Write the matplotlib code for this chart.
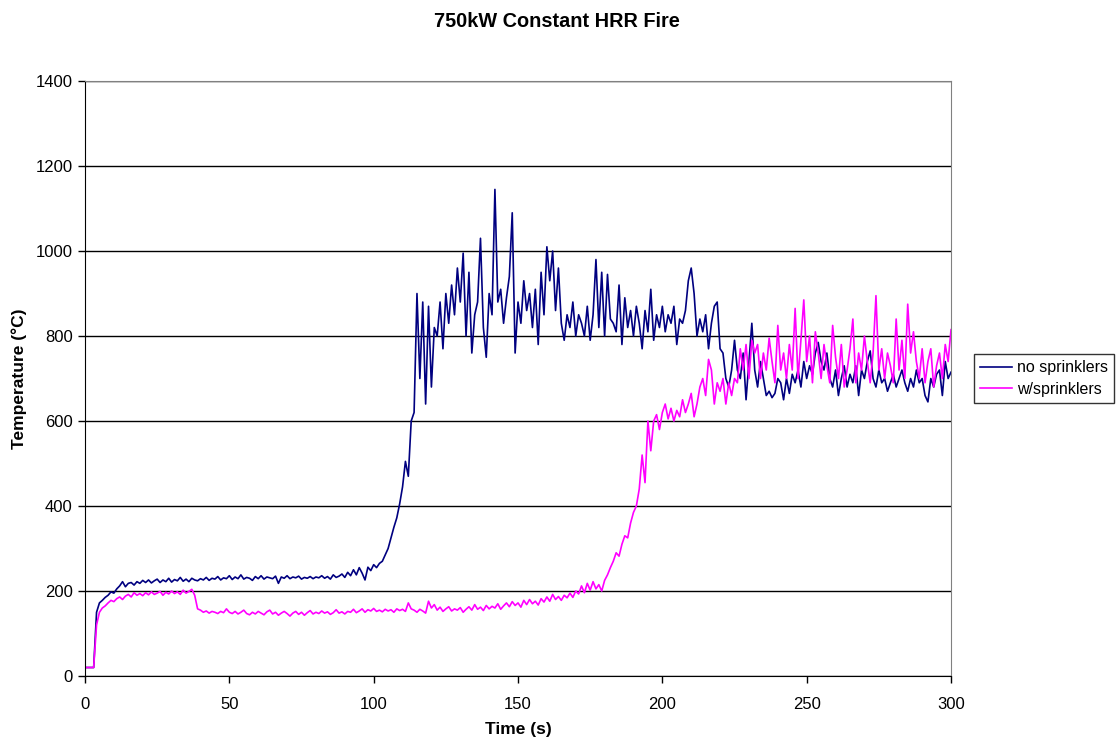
import numpy as np
from matplotlib import pyplot as plt

plt.rcParams['font.family'] = ['Liberation Sans', 'DejaVu Sans']

# time in seconds, one sample per second
time_s = np.arange(0, 301)

no_sprinklers = [
    20, 20, 20, 20, 150, 172, 178, 185, 190, 198,
    195, 205, 212, 222, 210, 218, 220, 214, 222, 218,
    225, 220, 226, 219, 224, 228, 220, 226, 222, 230,
    221, 227, 224, 232, 223, 228, 222, 230, 226, 224,
    229, 226, 232, 225, 230, 228, 234, 226, 231, 229,
    236, 227, 233, 229, 238, 228, 232, 230, 225, 234,
    229, 236, 228, 233, 231, 229, 235, 218, 233, 230,
    236, 229, 233, 231, 235, 228, 232, 230, 234, 229,
    233, 231, 236, 230, 234, 228, 238, 232, 235, 240,
    232, 244, 236, 250, 238, 255, 242, 226, 256, 248,
    262, 255, 265, 270, 285, 300, 325, 350, 372, 405,
    445, 505, 470, 600, 620, 900, 700, 880, 640, 870,
    680, 820, 800, 880, 770, 900, 830, 920, 850, 960,
    880, 995, 800, 950, 760, 850, 880, 1030, 820, 750,
    900, 850, 1145, 880, 910, 830, 890, 940, 1090, 760,
    880, 830, 930, 860, 900, 820, 910, 780, 950, 850,
    1010, 930, 1000, 860, 960, 830, 790, 850, 820, 880,
    800, 850, 830, 800, 870, 790, 850, 980, 820, 950,
    800, 945, 840, 830, 810, 920, 780, 890, 820, 860,
    800, 870, 830, 770, 860, 810, 910, 790, 850, 820,
    870, 810, 850, 830, 870, 780, 840, 830, 860, 930,
    960, 900, 800, 840, 810, 850, 770, 830, 870, 880,
    770, 760, 700, 680, 720, 790, 720, 700, 760, 650,
    740, 830, 720, 680, 740, 700, 660, 670, 655, 665,
    700, 690, 650, 700, 665, 710, 690, 720, 680, 740,
    700, 730, 710, 760, 785, 740, 720, 760, 700, 680,
    720, 660, 700, 730, 680, 710, 690, 730, 660, 720,
    700, 740, 765, 700, 680, 720, 690, 700, 670, 690,
    710, 680, 700, 720, 690, 670, 700, 680, 720, 690,
    700, 660, 645, 700, 680, 710, 720, 660, 740, 700,
    715,
]

with_sprinklers = [
    20, 20, 20, 20, 120, 150, 160, 165, 172, 178,
    175, 182, 186, 180, 188, 192, 186, 196, 190, 194,
    189, 196, 191, 198, 192, 195, 199, 190, 197, 193,
    200, 194, 198, 192, 202, 195, 199, 204, 190, 158,
    155, 150, 153, 148, 152, 150, 147, 152, 149, 158,
    150, 147, 152, 146, 150, 155, 147, 144, 150, 146,
    152, 148, 144, 151, 155, 146, 150, 143, 148, 152,
    147, 141, 148, 152, 145, 150, 143, 149, 154, 146,
    150, 147, 153, 148, 151, 145, 149, 156, 148, 151,
    146, 152, 150, 157, 149, 153, 158, 150, 156, 153,
    159, 152, 155, 151, 157, 153, 156, 150, 158, 154,
    157, 152, 172, 158, 155, 150, 157, 153, 148, 176,
    160, 168, 155, 162, 152, 158, 163, 153, 158, 155,
    161, 150, 157, 163, 155, 168, 157, 162, 154, 166,
    158, 164, 160, 170, 157, 165, 172, 163, 175, 166,
    172, 162, 178, 168, 180, 170, 176, 167, 182, 174,
    186, 176, 192, 180, 187, 178, 190, 184, 195, 185,
    200, 193, 212, 196, 218, 202, 222, 205, 215, 200,
    225, 238, 255, 270, 290, 282, 310, 330, 325, 360,
    385, 400, 440, 520, 455, 600, 530, 600, 615, 580,
    620, 640, 605, 630, 600, 625, 610, 650, 620, 640,
    665, 610, 640, 680, 700, 660, 745, 720, 640, 690,
    670, 700, 640, 690, 660, 700, 690, 770, 720, 780,
    700, 790, 760, 780, 700, 760, 720, 795, 740, 690,
    825, 720, 760, 700, 780, 720, 865, 700, 790, 885,
    740, 800, 690, 810, 760, 700, 780, 730, 690, 825,
    750, 700, 780, 680, 720, 770, 840, 690, 760, 720,
    800, 740, 690, 760, 895, 720, 770, 700, 760, 730,
    690, 840, 720, 790, 700, 875, 760, 810, 740, 700,
    770, 690, 740, 770, 680, 730, 760, 700, 780, 740,
    815,
]

x_ticks = [0, 50, 100, 150, 200, 250, 300]
y_ticks = [0, 200, 400, 600, 800, 1000, 1200, 1400]

fig = plt.figure(figsize=(11.17, 7.38), dpi=100)
ax = fig.add_axes([0.0761, 0.0840, 0.7753, 0.8062])

ax.plot(time_s, no_sprinklers, color='#000080', lw=1.2, label='no sprinklers')
ax.plot(time_s, with_sprinklers, color='#FF00FF', lw=1.2, label='w/sprinklers')

ax.set_xlim(0, 300)
ax.set_ylim(0, 1400)
ax.set_xticks(x_ticks)
ax.set_yticks(y_ticks)
ax.yaxis.grid(True, color='black', lw=1.0)
ax.set_axisbelow(True)
ax.tick_params(labelsize=12, direction='out', length=5, width=1, colors='black')
ax.tick_params(axis='x', pad=10)
ax.tick_params(axis='y', pad=4)
for side in ['left', 'bottom']:
    ax.spines[side].set_color('black')
for side in ['top', 'right']:
    ax.spines[side].set_color('#808080')

ax.set_xlabel('Time (s)', fontsize=12.5, fontweight='bold', labelpad=7)
ax.set_ylabel('Temperature (°C)', fontsize=12.5, fontweight='bold', labelpad=6)
fig.suptitle('750kW Constant HRR Fire', fontsize=14.3, fontweight='bold', x=0.4985, y=0.984)

leg = ax.legend(loc='center left', bbox_to_anchor=(1.026, 0.5), fontsize=11.5,
                frameon=True, fancybox=False, borderpad=0.4, handlelength=2.0,
                handletextpad=0.3, labelspacing=0.4, borderaxespad=0)
leg.get_frame().set_edgecolor('black')
leg.get_frame().set_linewidth(1.0)

fig.savefig('out.png', dpi=100)
